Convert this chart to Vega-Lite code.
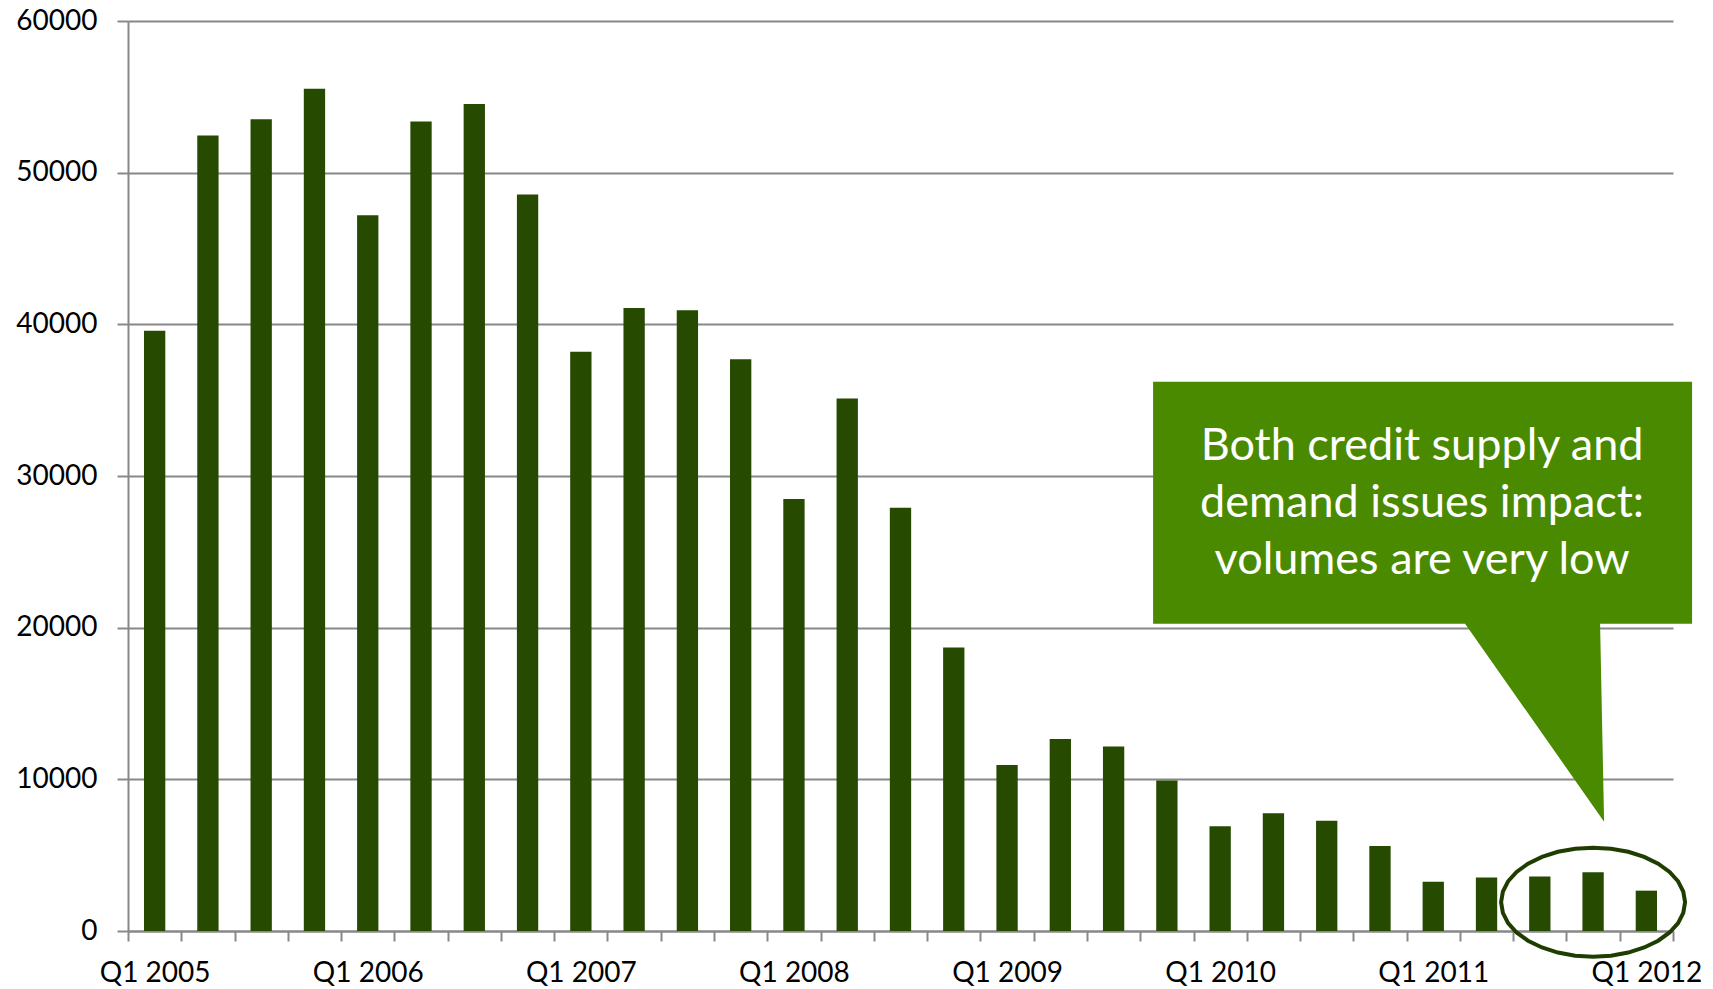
{
  "$schema": "https://vega.github.io/schema/vega-lite/v6.json",
  "width": 1545,
  "height": 910,
  "autosize": "none",
  "padding": {"left": 128, "top": 21, "right": 40, "bottom": 58},
  "background": "white",
  "config": {"view": {"stroke": null}, "font": "Lato"},
  "datasets": {
    "bars": [
      {"quarter": "Q1 2005", "value": 39570},
      {"quarter": "Q2 2005", "value": 52450},
      {"quarter": "Q3 2005", "value": 53520},
      {"quarter": "Q4 2005", "value": 55540},
      {"quarter": "Q1 2006", "value": 47190},
      {"quarter": "Q2 2006", "value": 53380},
      {"quarter": "Q3 2006", "value": 54530},
      {"quarter": "Q4 2006", "value": 48560},
      {"quarter": "Q1 2007", "value": 38200},
      {"quarter": "Q2 2007", "value": 41080},
      {"quarter": "Q3 2007", "value": 40930},
      {"quarter": "Q4 2007", "value": 37700},
      {"quarter": "Q1 2008", "value": 28490},
      {"quarter": "Q2 2008", "value": 35110},
      {"quarter": "Q3 2008", "value": 27910},
      {"quarter": "Q4 2008", "value": 18700},
      {"quarter": "Q1 2009", "value": 10940},
      {"quarter": "Q2 2009", "value": 12660},
      {"quarter": "Q3 2009", "value": 12160},
      {"quarter": "Q4 2009", "value": 9930},
      {"quarter": "Q1 2010", "value": 6900},
      {"quarter": "Q2 2010", "value": 7770},
      {"quarter": "Q3 2010", "value": 7270},
      {"quarter": "Q4 2010", "value": 5610},
      {"quarter": "Q1 2011", "value": 3240},
      {"quarter": "Q2 2011", "value": 3530},
      {"quarter": "Q3 2011", "value": 3600},
      {"quarter": "Q4 2011", "value": 3880},
      {"quarter": "Q1 2012", "value": 2660}
    ],
    "ring": [{"quarter": "Q4 2011", "value": 1900}],
    "callout": [{"quarter": "Q4 2011", "value": 20000}],
    "note": [{"quarter": "Q4 2011", "value": 31950, "label": "Both credit supply and\ndemand issues impact:\nvolumes are very low"}]
  },
  "layer": [
    {
      "data": {"name": "bars"},
      "mark": {"type": "bar", "color": "#264A00", "width": {"band": 0.4}},
      "encoding": {
        "x": {
          "field": "quarter", "type": "ordinal",
          "scale": {
            "domain": ["Q1 2005", "Q2 2005", "Q3 2005", "Q4 2005", "Q1 2006", "Q2 2006", "Q3 2006", "Q4 2006", "Q1 2007", "Q2 2007", "Q3 2007", "Q4 2007", "Q1 2008", "Q2 2008", "Q3 2008", "Q4 2008", "Q1 2009", "Q2 2009", "Q3 2009", "Q4 2009", "Q1 2010", "Q2 2010", "Q3 2010", "Q4 2010", "Q1 2011", "Q2 2011", "Q3 2011", "Q4 2011", "Q1 2012"],
            "paddingInner": 0, "paddingOuter": 0
          },
          "axis": {
            "title": null,
            "labelExpr": "indexof('' + datum.label, 'Q1') == 0 ? datum.label : ''",
            "labelAngle": 0, "labelFontSize": 28, "labelFont": "Lato", "labelColor": "#000000",
            "labelPadding": 18, "labelOverlap": false,
            "tickSize": 10, "tickColor": "#888888", "tickWidth": 2, "tickBand": "extent",
            "domainColor": "#888888", "domainWidth": 2, "grid": false
          }
        },
        "y": {
          "field": "value", "type": "quantitative",
          "scale": {"domain": [0, 60000], "nice": false},
          "axis": {
            "title": null,
            "values": [0, 10000, 20000, 30000, 40000, 50000, 60000],
            "format": "d",
            "labelFontSize": 28, "labelFont": "Lato", "labelColor": "#000000", "labelPadding": 20,
            "tickSize": 11, "tickColor": "#888888", "tickWidth": 2,
            "grid": true, "gridColor": "#888888", "gridWidth": 2,
            "domainColor": "#888888", "domainWidth": 2
          }
        }
      }
    },
    {
      "data": {"name": "ring"},
      "mark": {"type": "point", "shape": "M 92 0 L 90.2 10.6 L 85 20.9 L 76.5 30.3 L 65.1 38.5 L 51.1 45.3 L 35.2 50.4 L 17.9 53.5 L 0 54.5 L -17.9 53.5 L -35.2 50.4 L -51.1 45.3 L -65.1 38.5 L -76.5 30.3 L -85 20.9 L -90.2 10.6 L -92 0 L -90.2 -10.6 L -85 -20.9 L -76.5 -30.3 L -65.1 -38.5 L -51.1 -45.3 L -35.2 -50.4 L -17.9 -53.5 L 0 -54.5 L 17.9 -53.5 L 35.2 -50.4 L 51.1 -45.3 L 65.1 -38.5 L 76.5 -30.3 L 85 -20.9 L 90.2 -10.6 Z", "size": 4, "filled": false, "color": "#1F3D00", "strokeWidth": 4, "opacity": 1},
      "encoding": {
        "x": {"field": "quarter", "type": "ordinal"},
        "y": {"field": "value", "type": "quantitative"}
      }
    },
    {
      "data": {"name": "callout"},
      "mark": {"type": "point", "shape": "M -440 -246 L 99 -246 L 99 -4 L 7 -4 L 11 194 L -128 -4 L -440 -4 Z", "size": 4, "filled": true, "color": "#4A8A00", "opacity": 1},
      "encoding": {
        "x": {"field": "quarter", "type": "ordinal"},
        "y": {"field": "value", "type": "quantitative"}
      }
    },
    {
      "data": {"name": "note"},
      "mark": {"type": "text", "lineBreak": "\n", "font": "Lato", "fontSize": 45, "lineHeight": 57, "color": "#FFFFFF", "align": "center", "baseline": "middle", "dx": -171},
      "encoding": {
        "x": {"field": "quarter", "type": "ordinal"},
        "y": {"field": "value", "type": "quantitative"},
        "text": {"field": "label"}
      }
    }
  ]
}
